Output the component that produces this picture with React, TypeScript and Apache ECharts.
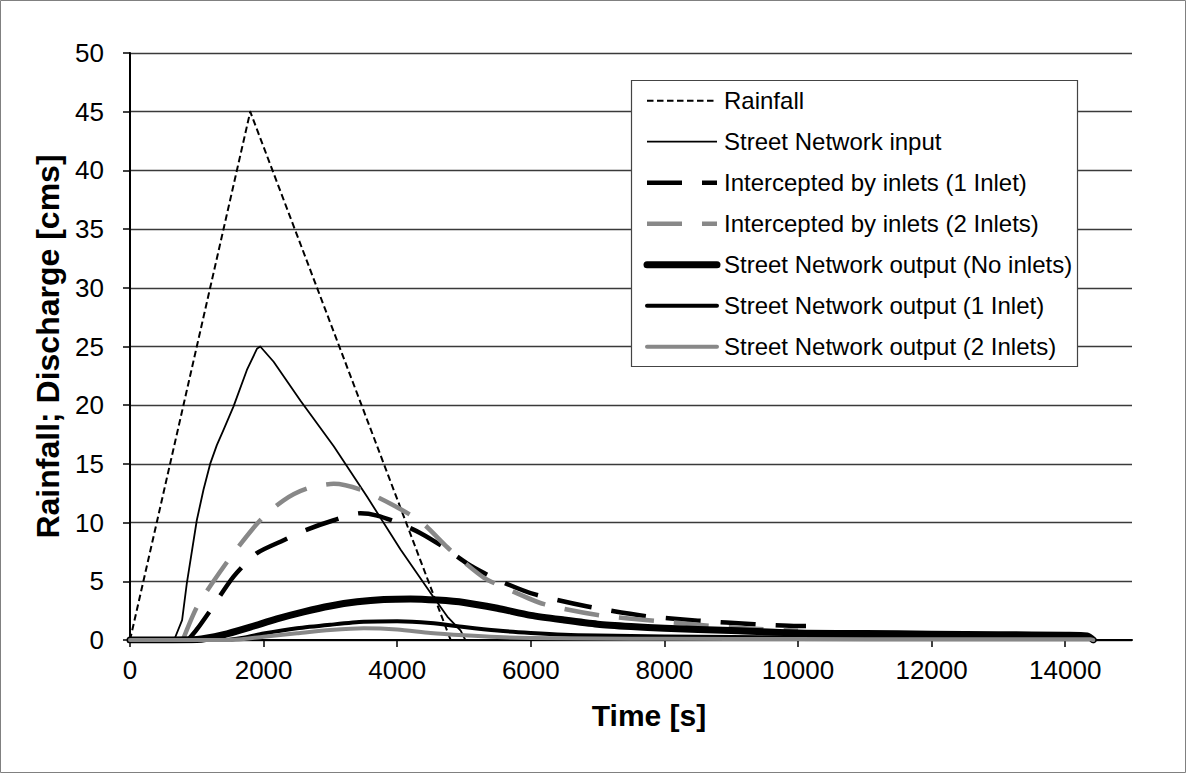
import React, { useEffect, useRef } from 'react';
import * as echarts from 'echarts';

const FONT = '"Liberation Sans", Arial, Helvetica, sans-serif';
const GRAY = '#888888';

// Time axis ticks
const timeTicks = [0, 2000, 4000, 6000, 8000, 10000, 12000, 14000];

// Rainfall hyetograph
const rainfallTime = [0, 600, 1200, 1800, 2400, 3000, 3600, 4200, 4800];
const rainfallValue = [0, 15, 30, 45, 36, 27, 18, 9, 0];

// Street network input hydrograph
const inputTime = [0, 660, 780, 850, 1000, 1100, 1200, 1300, 1400, 1550, 1750, 1900, 1950, 2150, 2550, 3050, 3550, 4050, 4500, 4750, 4950, 5020];
const inputValue = [0, 0, 1.7, 4.8, 10.2, 12.8, 15.0, 16.6, 17.9, 19.9, 23.0, 24.8, 25.0, 23.7, 20.4, 16.5, 12.2, 7.7, 4.0, 2.0, 0.8, 0];

// Flow intercepted by inlets, one inlet
const inlet1Time = [870, 1000, 1200, 1550, 1900, 2300, 2650, 3050, 3450, 3700, 4050, 4350, 4700, 5050, 5300, 5550, 6050, 6850, 7700, 8500, 9350, 10000, 10120];
const inlet1Value = [0, 0.9, 2.5, 5.4, 7.4, 8.5, 9.4, 10.2, 10.8, 10.6, 9.9, 9.1, 7.9, 6.5, 5.7, 5.0, 3.9, 2.85, 2.05, 1.65, 1.35, 1.2, 1.2];

// Flow intercepted by inlets, two inlets
const inlet2Time = [790, 1000, 1250, 1550, 1950, 2300, 2650, 3050, 3450, 3900, 4350, 4750, 5050, 5300, 5550, 6200, 7000, 7850, 8500, 9200, 10000];
const inlet2Value = [0, 2.8, 5.0, 7.4, 10.2, 11.9, 12.9, 13.3, 12.8, 11.6, 10.1, 7.9, 6.4, 5.3, 4.6, 3.05, 2.13, 1.64, 1.3, 1.0, 0.8];

// Street network output, no inlets
const out0Time = [0, 1000, 1400, 1800, 2200, 2600, 3000, 3400, 3800, 4200, 4600, 5000, 5500, 6000, 6500, 7000, 7500, 8000, 9000, 10000, 11000, 12000, 13000, 14000, 14330, 14420];
const out0Value = [0, 0.05, 0.45, 1.1, 1.8, 2.4, 2.9, 3.25, 3.45, 3.5, 3.4, 3.2, 2.7, 2.1, 1.7, 1.35, 1.15, 1.0, 0.8, 0.6, 0.55, 0.5, 0.45, 0.4, 0.35, 0];

// Street network output, one inlet
const out1Time = [0, 1400, 1700, 2000, 2500, 3000, 3500, 4000, 4500, 5000, 5500, 6000, 6500, 7000, 8000, 9000, 10000, 12000, 14380, 14420];
const out1Value = [0, 0, 0.2, 0.55, 1.0, 1.3, 1.55, 1.6, 1.45, 1.1, 0.8, 0.6, 0.45, 0.38, 0.3, 0.25, 0.22, 0.2, 0.18, 0];

// Street network output, two inlets
const out2Time = [0, 1500, 2000, 2500, 3000, 3500, 4000, 4500, 5000, 5500, 6000, 7000, 8000, 10000, 12000, 14380, 14420];
const out2Value = [0, 0, 0.28, 0.57, 0.85, 1.0, 0.9, 0.6, 0.4, 0.25, 0.18, 0.12, 0.1, 0.08, 0.07, 0.06, 0];

const seriesNames = [
  'Rainfall',
  'Street Network input',
  'Intercepted by inlets (1 Inlet)',
  'Intercepted by inlets (2 Inlets)',
  'Street Network output (No inlets)',
  'Street Network output (1 Inlet)',
  'Street Network output (2 Inlets)',
];

type Stroke = { color: string; width: number; dash: number[] | null; cap: 'butt' | 'round'; smooth: number | boolean };

// Line look of each series, shared by the plot and the key box
const strokes: Stroke[] = [
  { color: '#000', width: 2, dash: [6.5, 3.5], cap: 'butt', smooth: false },
  { color: '#000', width: 1.8, dash: null, cap: 'butt', smooth: false },
  { color: '#000', width: 4.5, dash: [35, 20], cap: 'butt', smooth: 0.25 },
  { color: GRAY, width: 4.5, dash: [35, 20], cap: 'butt', smooth: 0.25 },
  { color: '#000', width: 7, dash: null, cap: 'round', smooth: 0.25 },
  { color: '#000', width: 4, dash: null, cap: 'round', smooth: 0.25 },
  { color: GRAY, width: 4, dash: null, cap: 'round', smooth: 0.25 },
];

const seriesData = [
  [rainfallTime, rainfallValue],
  [inputTime, inputValue],
  [inlet1Time, inlet1Value],
  [inlet2Time, inlet2Value],
  [out0Time, out0Value],
  [out1Time, out1Value],
  [out2Time, out2Value],
];

const pairs = (t: number[], v: number[]) => t.map((x, i) => [x, v[i]]);

// Key box geometry
const KEY = { x: 631, y: 80, w: 446, h: 286, lineX1: 647, lineX2: 717, textX: 724, firstRow: 100.7, pitch: 41 };

export default function App() {
  const ref = useRef<HTMLDivElement>(null);

  useEffect(() => {
    const chart = echarts.init(ref.current as HTMLDivElement, null, { renderer: 'svg' });

    const keyItems: any[] = [
      {
        type: 'rect',
        z: 50,
        shape: { x: KEY.x + 0.5, y: KEY.y + 0.5, width: KEY.w, height: KEY.h },
        style: { fill: '#ffffff', stroke: '#444444', lineWidth: 1.2 },
        silent: true,
      },
    ];
    seriesNames.forEach((name, i) => {
      const s = strokes[i];
      const y = KEY.firstRow + i * KEY.pitch;
      keyItems.push({
        type: 'line',
        z: 51,
        shape: { x1: KEY.lineX1, y1: y, x2: KEY.lineX2, y2: y },
        style: { stroke: s.color, lineWidth: s.width, lineDash: s.dash || undefined, lineCap: s.cap },
        silent: true,
      });
      keyItems.push({
        type: 'text',
        z: 51,
        x: KEY.textX,
        y,
        style: { text: name, fontSize: 24, fontFamily: FONT, fill: '#000', verticalAlign: 'middle', align: 'left' },
        silent: true,
      });
    });

    chart.setOption({
      animation: false,
      backgroundColor: '#ffffff',
      textStyle: { fontFamily: FONT, color: '#000' },
      grid: { left: 130, top: 53, right: 55, bottom: 134 },
      xAxis: {
        type: 'value',
        min: 0,
        max: 15000,
        interval: 2000,
        axisLine: { show: true, lineStyle: { color: '#000', width: 2 } },
        axisTick: { show: true, length: 7, lineStyle: { color: '#000', width: 1.5 } },
        axisLabel: {
          fontSize: 26,
          color: '#000',
          fontFamily: FONT,
          margin: 17,
          showMaxLabel: false,
          formatter: (v: number) => (timeTicks.includes(v) ? String(v) : ''),
        },
        splitLine: { show: false },
        name: 'Time [s]',
        nameLocation: 'middle',
        nameGap: 60,
        nameTextStyle: { fontSize: 30, fontWeight: 'bold', color: '#000', fontFamily: FONT, padding: [0, 0, 0, 36] },
      },
      yAxis: {
        type: 'value',
        min: 0,
        max: 50,
        interval: 5,
        axisLine: { show: true, lineStyle: { color: '#000', width: 2 } },
        axisTick: { show: true, length: 7, lineStyle: { color: '#000', width: 1.5 } },
        axisLabel: { fontSize: 26, color: '#000', fontFamily: FONT, margin: 26 },
        splitLine: { show: true, lineStyle: { color: '#3a3a3a', width: 1.3 } },
        name: 'Rainfall; Discharge [cms]',
        nameLocation: 'middle',
        nameGap: 66,
        nameTextStyle: { fontSize: 32, fontWeight: 'bold', color: '#000', fontFamily: FONT },
      },
      legend: { show: false },
      graphic: [
        ...keyItems,
        {
          type: 'rect',
          shape: { x: 0.5, y: 0.5, width: 1185, height: 772 },
          style: { fill: 'none', stroke: '#808080', lineWidth: 1 },
          silent: true,
          z: 100,
        },
      ],
      series: seriesNames.map((name, i) => {
        const s = strokes[i];
        return {
          name,
          type: 'line',
          data: pairs(seriesData[i][0], seriesData[i][1]),
          symbol: 'none',
          smooth: s.smooth,
          lineStyle: { color: s.color, width: s.width, type: s.dash || 'solid', cap: s.cap, join: 'round' },
          itemStyle: { color: s.color },
          emphasis: { disabled: true },
        };
      }),
    });

    return () => chart.dispose();
  }, []);

  return (
    <div
      ref={ref}
      style={{ position: 'fixed', left: 0, top: 0, width: 1187, height: 774, background: '#fff' }}
    />
  );
}
